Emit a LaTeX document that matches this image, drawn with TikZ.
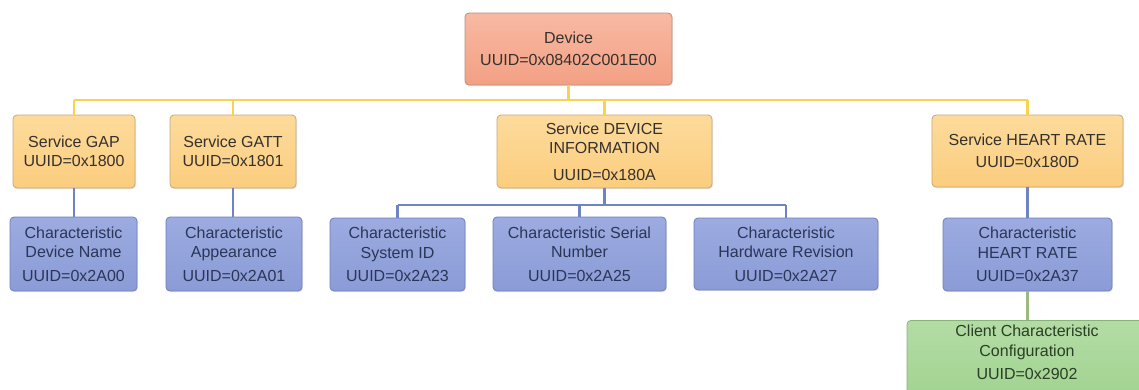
\documentclass[tikz,border=0pt]{standalone}
\usepackage{fontspec}
\setmainfont{Liberation Sans}
\usetikzlibrary{shadows}

\definecolor{devfillA}{HTML}{F8B9A2}
\definecolor{devfillB}{HTML}{F3A084}
\definecolor{devdraw}{HTML}{C08B7A}
\definecolor{srvfillA}{HTML}{FDDB9C}
\definecolor{srvfillB}{HTML}{FBCD7E}
\definecolor{srvdraw}{HTML}{C7A874}
\definecolor{chrfillA}{HTML}{9CABE0}
\definecolor{chrfillB}{HTML}{8A9BD7}
\definecolor{chrdraw}{HTML}{6F80B8}
\definecolor{cccfillA}{HTML}{B3DCA5}
\definecolor{cccfillB}{HTML}{A2D391}
\definecolor{cccdraw}{HTML}{86B377}
\definecolor{yline}{HTML}{F6D450}
\definecolor{bline}{HTML}{6F84C4}
\definecolor{gline}{HTML}{9DB97F}
\definecolor{txtdark}{HTML}{35312D}
\definecolor{txtblue}{HTML}{2B3656}
\definecolor{txtgreen}{HTML}{2A3F25}

\tikzset{
  box/.style={draw, line width=0.8pt, rounded corners=4pt, align=center,
    inner sep=2pt, font=\fontsize{16}{19.5}\selectfont,
    drop shadow={opacity=0.18, shadow xshift=1pt, shadow yshift=-1.2pt}},
  devbox/.style={box, top color=devfillA, bottom color=devfillB, draw=devdraw, text=txtdark},
  srvbox/.style={box, top color=srvfillA, bottom color=srvfillB, draw=srvdraw, text=txtdark},
  chrbox/.style={box, top color=chrfillA, bottom color=chrfillB, draw=chrdraw, text=txtblue},
  cccbox/.style={box, top color=cccfillA, bottom color=cccfillB, draw=cccdraw, text=txtgreen},
  ylink/.style={draw=yline, line width=2.8pt},
  blink/.style={draw=bline, line width=2.4pt},
  glink/.style={draw=gline, line width=2.4pt}
}

\begin{document}
\begin{tikzpicture}[x=1pt, y=-1pt]
\useasboundingbox (0,0) rectangle (1139,389);
\fill[white] (0,0) rectangle (1139,389);
\clip (0,0) rectangle (1139,389);

% connector bus levels
\coordinate (ybus) at (0,100);
\coordinate (bbus) at (0,205);

% root
\node[devbox, minimum width=207pt, minimum height=72pt] (dev) at (568.5,49)
  {Device\\[2pt]UUID=0x08402C001E00};

% services
\node[srvbox, minimum width=122pt, minimum height=73pt] (gap) at (74,151.5)
  {Service GAP\\UUID=0x1800};
\node[srvbox, minimum width=126pt, minimum height=73pt] (gatt) at (233,151.5)
  {Service GATT\\UUID=0x1801};
\node[srvbox, minimum width=215pt, minimum height=73pt] (dis) at (604.5,151.5)
  {Service DEVICE\\INFORMATION\\[7pt]UUID=0x180A};
\node[srvbox, minimum width=191pt, minimum height=72pt] (hrs) at (1027.5,151)
  {Service HEART RATE\\[3pt]UUID=0x180D};

% characteristics
\node[chrbox, minimum width=127pt, minimum height=74pt] (cdn) at (73.5,254)
  {Characteristic\\Device Name\\[4pt]UUID=0x2A00};
\node[chrbox, minimum width=136pt, minimum height=74pt] (capp) at (234,254)
  {Characteristic\\Appearance\\[4pt]UUID=0x2A01};
\node[chrbox, minimum width=135pt, minimum height=73pt] (csid) at (397.5,254.5)
  {Characteristic\\System ID\\[4pt]UUID=0x2A23};
\node[chrbox, minimum width=173pt, minimum height=74pt] (csn) at (579.5,254)
  {Characteristic Serial\\Number\\[4pt]UUID=0x2A25};
\node[chrbox, minimum width=184pt, minimum height=72pt] (chw) at (786,254)
  {Characteristic\\Hardware Revision\\[4pt]UUID=0x2A27};
\node[chrbox, minimum width=169pt, minimum height=73pt] (chr) at (1027.5,254.5)
  {Characteristic\\HEART RATE\\[4pt]UUID=0x2A37};

% descriptor (runs past the lower edge)
\node[cccbox, minimum width=240pt, minimum height=76pt, text depth=12pt, anchor=north] (ccc) at (1027,320)
  {Client Characteristic\\Configuration\\[4pt]UUID=0x2902};

% device to services
\draw[ylink] (dev.south) -- (dev.south |- ybus);
\draw[ylink] (gap.north |- ybus) -- (hrs.north |- ybus);
\draw[ylink] (gap.north |- ybus) -- (gap.north);
\draw[ylink] (gatt.north |- ybus) -- (gatt.north);
\draw[ylink] (dis.north |- ybus) -- (dis.north);
\draw[ylink] (hrs.north |- ybus) -- (hrs.north);

% services to characteristics
\draw[blink] (gap.south) -- (gap.south |- cdn.north);
\draw[blink] (gatt.south) -- (gatt.south |- capp.north);
\draw[blink] (dis.south) -- (dis.south |- bbus);
\draw[blink] (csid.north |- bbus) -- (chw.north |- bbus);
\draw[blink] (csid.north |- bbus) -- (csid.north);
\draw[blink] (csn.north |- bbus) -- (csn.north);
\draw[blink] (chw.north |- bbus) -- (chw.north);
\draw[blink] (hrs.south) -- (chr.north);

% characteristic to descriptor
\draw[glink] (chr.south) -- (chr.south |- ccc.north);
\end{tikzpicture}
\end{document}
